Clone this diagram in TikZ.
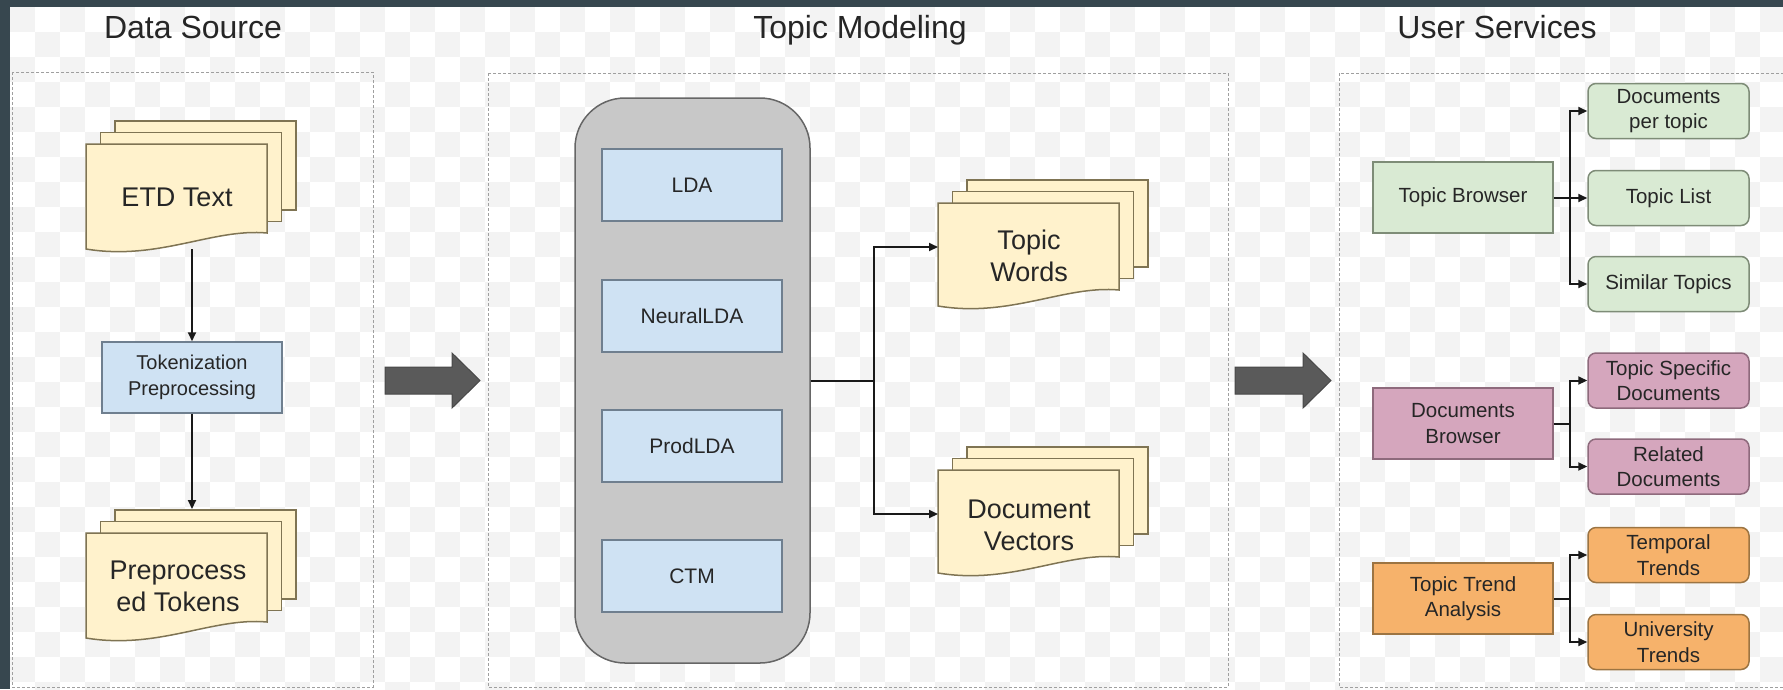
\documentclass[tikz,border=0pt]{standalone}
\usepackage{fontspec}
\setmainfont{Liberation Sans}
\usetikzlibrary{arrows.meta}

\definecolor{framecol}{HTML}{37474F}
\definecolor{checkcol}{HTML}{F3F3F3}
\definecolor{docfill}{HTML}{FFF2CC}
\definecolor{docline}{HTML}{7F7453}
\definecolor{procfill}{HTML}{CFE2F3}
\definecolor{procline}{HTML}{6F7F8F}
\definecolor{modfill}{HTML}{C8C8C8}
\definecolor{modline}{HTML}{666666}
\definecolor{tbfill}{HTML}{D9EAD3}
\definecolor{tbline}{HTML}{7E8C77}
\definecolor{dbfill}{HTML}{D5A6BD}
\definecolor{dbline}{HTML}{8E6A7C}
\definecolor{ttfill}{HTML}{F6B26B}
\definecolor{ttline}{HTML}{9C7442}
\definecolor{blockcol}{HTML}{5A5A5A}

\tikzset{
	title/.style={font=\fontsize{32}{36}\selectfont, text=black!85, anchor=base},
	group/.style={draw=gray!75, dash pattern=on 3pt off 2pt, line width=1pt},
	sheet/.style={fill=docfill, draw=docline, line width=1.5pt},
	doctext/.style={font=\fontsize{27}{32}\selectfont, align=center, text=black!85},
	procbox/.style={fill=procfill, draw=procline, line width=1.5pt, minimum width=180, minimum height=71,
		inner sep=0, align=center, font=\fontsize{20}{26}\selectfont, text=black!85},
	model/.style={fill=procfill, draw=procline, line width=1.5pt, minimum width=180, minimum height=72,
		inner sep=0, font=\fontsize{21}{25}\selectfont, text=black!85},
	container/.style={fill=modfill, draw=modline, line width=1.5pt, rounded corners=50,
		minimum width=235, minimum height=565, inner sep=0},
	parent/.style 2 args={fill=#1, draw=#2, line width=1.5pt, minimum width=180, minimum height=71,
		inner sep=0, align=center, font=\fontsize{20.5}{25.5}\selectfont, text=black!85},
	child/.style 2 args={fill=#1, draw=#2, line width=1.5pt, rounded corners=8, minimum width=161,
		minimum height=55, inner sep=0, align=center, font=\fontsize{20.5}{25.5}\selectfont, text=black!85},
	line/.style={line width=2pt, draw=black!90},
	flow/.style={line, -{Triangle[length=9pt,width=8pt]}},
	bigarrow/.style={fill=blockcol, draw=blockcol!80!black, line width=1pt}
}

% stack of three pages: left, top, width, height, shift
\newcommand{\docstack}[5]{
	\filldraw[sheet] ({#1+2*#5},{#2-23}) rectangle ++(#3,#4);
	\filldraw[sheet] ({#1+#5},{#2-11.5}) rectangle ++(#3,#4);
	\filldraw[sheet] (#1,#2) -- ++(#3,0) -- ++(0,#4)
		.. controls ({#1+0.7*#3},{#2+#4-5}) and ({#1+0.4*#3},{#2+#4+28}) .. ({#1},{#2+#4+16}) -- cycle;
}

\begin{document}
\begin{tikzpicture}[x=1pt,y=-1pt]
		\useasboundingbox (0,0) rectangle (1783,689);

		% background
		\foreach \x in {10,60,...,1760}{
			\foreach \y in {7,57,...,657}{
				\fill[checkcol] (\x,\y) rectangle ++(25,25);
				\fill[checkcol] ({\x+25},{\y+25}) rectangle ++(25,25);
			}
		}
		\fill[framecol] (0,0) rectangle (1783,7);
		\fill[framecol] (0,0) rectangle (10,689);

		\node[title] (srctitle) at (193,38) {Data Source};
		\node[title] (tmtitle) at (860,38) {Topic Modeling};
		\node[title] (ustitle) at (1497,38) {User Services};

		\draw[group] (12,72) rectangle (373,687);
		\draw[group] (488,73) rectangle (1228,687);
		\draw[group] (1339,73) rectangle (1795,687);

		\filldraw[bigarrow] (385,367) -- (452,367) -- (452,353) -- (480,380.5) -- (452,408) -- (452,394) -- (385,394) -- cycle;
		\filldraw[bigarrow] (1235,367) -- (1303,367) -- (1303,353) -- (1331,380.5) -- (1303,408) -- (1303,394) -- (1235,394) -- cycle;

		% data source
		\docstack{86}{144}{181}{89}{14.5}
		\node[doctext] (etd) at (177,197) {ETD Text};
		\docstack{86}{533}{181}{89}{14.5}
		\node[doctext] (pretok) at (178,586) {Preprocess\\ed Tokens};
		\node[procbox] (tok) at (192,377.5) {Tokenization\\Preprocessing};

		\coordinate (etdout) at (192,249);
		\coordinate (pretokin) at (192,509);
		\draw[flow] (etdout) -- (tok);
		\draw[flow] (tok) -- (pretokin);

		% topic modeling
		\node[container] (models) at (692.5,380.5) {};
		\node[model] (lda) at (692,185) {LDA};
		\node[model] (nlda) at (692,316) {NeuralLDA};
		\node[model] (plda) at (692,446) {ProdLDA};
		\node[model] (ctm) at (692,576) {CTM};

		\docstack{938}{203}{181}{87}{14.5}
		\node[doctext] (words) at (1029,256) {Topic\\Words};
		\docstack{938}{470}{181}{87}{14.5}
		\node[doctext] (vecs) at (1029,525) {Document\\Vectors};

		\coordinate (split) at (874,380.5);
		\coordinate (wordsin) at (938,247);
		\coordinate (vecsin) at (938,514);
		\draw[line] (models.east) -- (split);
		\draw[flow] (split) |- (wordsin);
		\draw[flow] (split) |- (vecsin);

		% user services
		\node[parent={tbfill}{tbline}] (tb) at (1463,197.5) {Topic Browser};
		\node[child={tbfill}{tbline}] (dpt) at (1668.5,111) {Documents\\per topic};
		\node[child={tbfill}{tbline}] (tl) at (1668.5,198) {Topic List};
		\node[child={tbfill}{tbline}] (st) at (1668.5,284) {Similar Topics};

		\node[parent={dbfill}{dbline}] (db) at (1463,423.5) {Documents\\Browser};
		\node[child={dbfill}{dbline}] (tsd) at (1668.5,380.5) {Topic Specific\\Documents};
		\node[child={dbfill}{dbline}] (rd) at (1668.5,466.5) {Related\\Documents};

		\node[parent={ttfill}{ttline}] (tta) at (1463,598.5) {Topic Trend\\Analysis};
		\node[child={ttfill}{ttline}] (tt) at (1668.5,555) {Temporal\\Trends};
		\node[child={ttfill}{ttline}] (ut) at (1668.5,642) {University\\Trends};

		\coordinate (tbsplit) at (1570,197.5);
		\coordinate (dbsplit) at (1570,423.5);
		\coordinate (ttsplit) at (1570,598.5);
		\draw[line] (tb) -- (tbsplit);
		\draw[line] (db) -- (dbsplit);
		\draw[line] (tta) -- (ttsplit);
		\foreach \c in {dpt,tl,st}{
			\draw[flow] (tbsplit) |- (\c);
		}
		\foreach \c in {tsd,rd}{
			\draw[flow] (dbsplit) |- (\c);
		}
		\foreach \c in {tt,ut}{
			\draw[flow] (ttsplit) |- (\c);
		}

	\end{tikzpicture}
\end{document}
